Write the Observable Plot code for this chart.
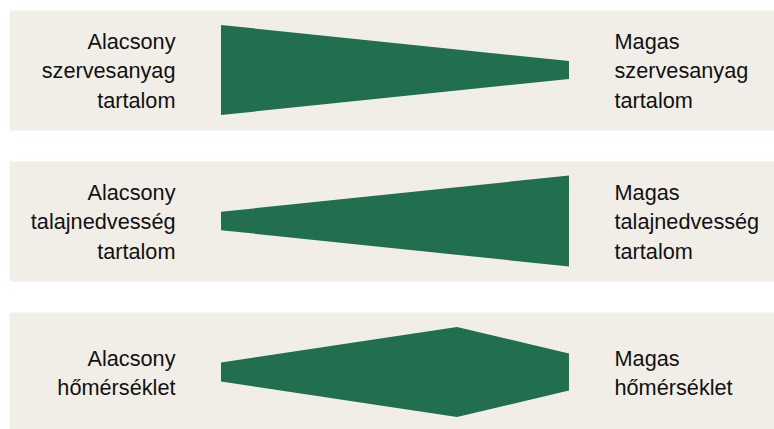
<!DOCTYPE html>
<html>
<head>
<meta charset="utf-8">
<script src="https://cdn.jsdelivr.net/npm/d3@7"></script>
<script src="https://cdn.jsdelivr.net/npm/@observablehq/plot@0.6"></script>
<style>
  html, body { margin: 0; padding: 0; background: #ffffff; }
  #chart svg { display: block; }
</style>
</head>
<body>
<div id="chart"></div>
<script>
// Panels (one per soil property)
const panels = ["szervesanyag", "talajnedvesség", "hőmérséklet"];
const lowLabels = ["Alacsony\nszervesanyag\ntartalom", "Alacsony\ntalajnedvesség\ntartalom", "Alacsony\nhőmérséklet"];
const highLabels = ["Magas\nszervesanyag\ntartalom", "Magas\ntalajnedvesség\ntartalom", "Magas\nhőmérséklet"];

// Shape profile: relative position along the gradient (0 = low, 1 = high) and thickness
const profilePanel = ["szervesanyag", "szervesanyag", "talajnedvesség", "talajnedvesség", "hőmérséklet", "hőmérséklet", "hőmérséklet"];
const profilePos = [0, 1, 0, 1, 0, 0.678, 1];
const profileThickness = [90, 18, 18.4, 91, 19, 90, 37];

const green = "#226f4f";
const beige = "#f1eee7";

const profile = profilePanel.map((p, i) => ({panel: p, pos: profilePos[i], thickness: profileThickness[i]}));
const labels = panels.map((p, i) => ({panel: p, low: lowLabels[i], high: highLabels[i]}));

const chart = Plot.plot({
  width: 774,
  height: 429,
  marginLeft: 9,
  marginRight: 0,
  marginTop: 0,
  marginBottom: 0,
  style: {fontFamily: "'Liberation Sans', Arial, Helvetica, sans-serif", background: "#ffffff"},
  x: {domain: [0, 1], range: [221, 569], axis: null},
  y: {domain: [-60, 60], axis: null},
  fy: {domain: panels, range: [10, 432], paddingInner: 0.2053, paddingOuter: 0, axis: null},
  marks: [
    Plot.frame({fill: beige}),
    Plot.areaY(profile, {
      x: "pos",
      y1: d => -d.thickness / 2,
      y2: d => d.thickness / 2,
      fy: "panel",
      fill: green,
      curve: "linear"
    }),
    Plot.text(labels, {
      fy: "panel", x: 0, y: 0, text: "low",
      textAnchor: "end", dx: -46, dy: -1.5, fontSize: 21.7, lineHeight: 1.36, fill: "#111111"
    }),
    Plot.text(labels, {
      fy: "panel", x: 1, y: 0, text: "high",
      textAnchor: "start", dx: 45, dy: -1.5, fontSize: 21.7, lineHeight: 1.36, fill: "#111111"
    })
  ]
});

document.getElementById("chart").appendChild(chart);
</script>
</body>
</html>
